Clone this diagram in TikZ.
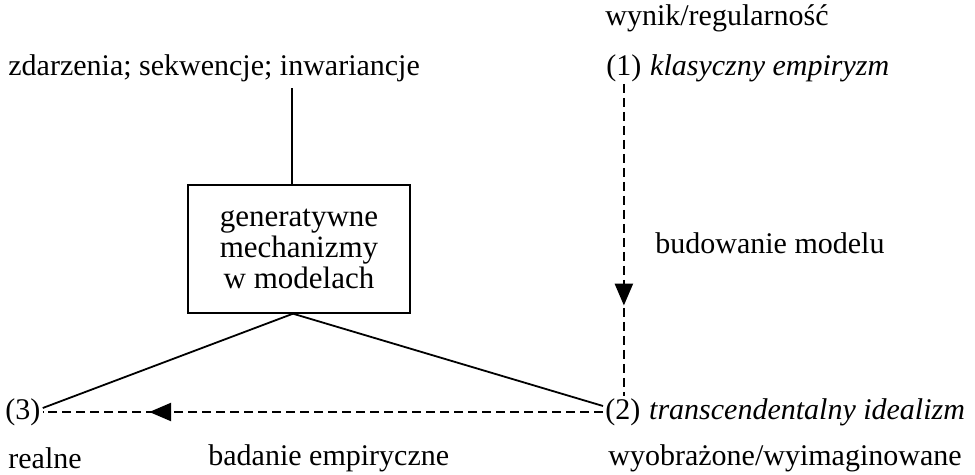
\documentclass[tikz,border=0pt]{standalone}
\usepackage{fontspec}
\setmainfont{Liberation Serif}
\usetikzlibrary{positioning,arrows.meta,decorations.markings}

\tikzset{
  lbl/.style={anchor=west, inner sep=1pt},
  mechbox/.style={draw, line width=0.7pt, align=center, minimum width=111pt,
    minimum height=64pt, inner sep=2pt, font=\fontsize{15.5}{15.5}\selectfont},
  link/.style={line width=0.9pt},
  dashlink/.style={line width=1.3pt, dash pattern=on 4.5pt off 2.5pt},
  midarrow/.style={postaction={decorate}, decoration={markings,
    mark=at position #1 with {\arrow{Triangle[length=11pt,width=9pt]}}}}
}

\begin{document}
\begin{tikzpicture}[x=0.5pt, y=-0.5pt, font=\fontsize{15}{17}\selectfont]
\useasboundingbox (0,0) rectangle (975,475);

% gorny wiersz
\node[lbl] (wr) at (603,18) {wynik/regularność};
\node[lbl] (zd) at (6,68) {zdarzenia; sekwencje; inwariancje};
\node[lbl] (n1) at (604,68) {(1)};
\node[base right=2pt of n1, inner sep=1pt] (ke) {\textit{klasyczny empiryzm}};

% mechanizmy
\node[mechbox] (mech) at (299,249) {generatywne\\mechanizmy\\w modelach};
\node[lbl] (bm) at (653,243) {budowanie modelu};

% dolny wiersz
\node[lbl] (n3) at (3,412) {(3)};
\node[lbl] (n2) at (603,412) {(2)};
\node[base right=2pt of n2, inner sep=1pt] (ti) {\textit{transcendentalny idealizm}};
\node[lbl] (re) at (6,458) {realne};
\node[lbl] (be) at (206,458) {badanie empiryczne};
\node[lbl] (wy) at (606,458) {wyobrażone/wyimaginowane};

% polaczenia
\coordinate (top) at ([xshift=-3.5pt]mech.north);
\coordinate (apex) at ([xshift=-3pt]mech.south);
\draw[link] (top) -- ([yshift=-2pt]top |- zd.south);
\draw[link] (apex) -- ([yshift=2pt]n3.east);
\draw[link] (apex) -- ([yshift=3pt]n2.west);
\draw[dashlink, midarrow=0.71] (n1.south) -- (n1.south |- n2.north);
\draw[dashlink, midarrow=0.81] (n2.west) -- (n3.east);

\end{tikzpicture}
\end{document}
